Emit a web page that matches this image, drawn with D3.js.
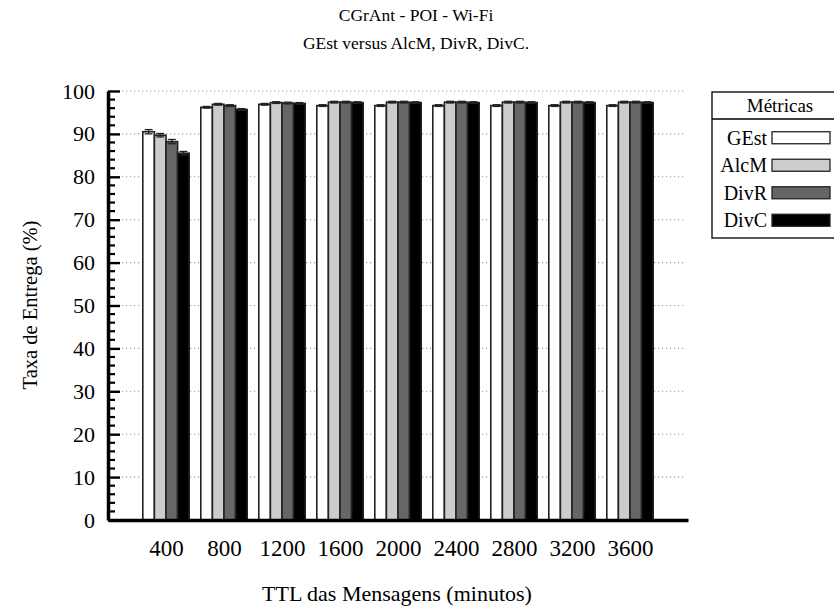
<!DOCTYPE html>
<html>
<head>
<meta charset="utf-8">
<script src="https://cdn.jsdelivr.net/npm/d3@7"></script>
<style>
  body { margin: 0; background: #fff; }
  svg { display: block; }
</style>
</head>
<body>
<svg id="chart" width="834" height="612"></svg>
<script>
const categories = ["400", "800", "1200", "1600", "2000", "2400", "2800", "3200", "3600"];
const seriesNames = ["GEst", "AlcM", "DivR", "DivC"];
const GEst = [90.5, 96.2, 96.9, 96.6, 96.6, 96.6, 96.6, 96.6, 96.6];
const AlcM = [89.7, 96.9, 97.3, 97.4, 97.4, 97.4, 97.4, 97.4, 97.4];
const DivR = [88.2, 96.6, 97.2, 97.4, 97.4, 97.4, 97.4, 97.4, 97.4];
const DivC = [85.5, 95.7, 97.1, 97.3, 97.3, 97.3, 97.3, 97.3, 97.3];
const GEstErr = [0.5, 0.2, 0.2, 0.2, 0.2, 0.2, 0.2, 0.2, 0.2];
const AlcMErr = [0.4, 0.2, 0.2, 0.2, 0.2, 0.2, 0.2, 0.2, 0.2];
const DivRErr = [0.5, 0.2, 0.2, 0.2, 0.2, 0.2, 0.2, 0.2, 0.2];
const DivCErr = [0.4, 0.2, 0.2, 0.2, 0.2, 0.2, 0.2, 0.2, 0.2];
const yTicks = [0, 10, 20, 30, 40, 50, 60, 70, 80, 90, 100];
const title1 = "CGrAnt - POI - Wi-Fi";
const title2 = "GEst versus AlcM, DivR, DivC.";
const xLabel = "TTL das Mensagens (minutos)";
const yLabel = "Taxa de Entrega (%)";
const legendTitle = "Métricas";

const values = [GEst, AlcM, DivR, DivC];
const errors = [GEstErr, AlcMErr, DivRErr, DivCErr];
const colors = ["#ffffff", "#cccccc", "#666666", "#000000"];
const FONT = "Liberation Serif";

const svg = d3.select("#chart").style("font-family", FONT);
const pLeft = 108, pRight = 688, pTop = 91, pBottom = 520;

const x = d3.scaleLinear().domain([-1, categories.length]).range([pLeft, pRight]);
const y = d3.scaleLinear().domain([0, 100]).range([pBottom, pTop]);
const barW = 0.2;

// grid
svg.append("g").selectAll("line").data(yTicks.filter(t => t > 0)).join("line")
  .attr("x1", pLeft + 2).attr("x2", pRight - 3)
  .attr("y1", d => y(d)).attr("y2", d => y(d))
  .attr("stroke", "#999").attr("stroke-width", 1.1).attr("stroke-dasharray", "1.2,2.8");

// bars
const flat = [];
categories.forEach((c, g) => {
  seriesNames.forEach((s, i) => {
    flat.push({g, i, v: values[i][g], e: errors[i][g]});
  });
});
const barsG = svg.append("g");
barsG.selectAll("rect").data(flat).join("rect")
  .attr("x", d => x(d.g + (d.i - 2) * barW))
  .attr("width", d => x(barW) - x(0))
  .attr("y", d => y(d.v))
  .attr("height", d => y(0) - y(d.v))
  .attr("fill", d => colors[d.i])
  .attr("stroke", "#222").attr("stroke-width", 1.6);

// error bars
const eg = barsG.selectAll("g.err").data(flat).join("g").attr("class", "err");
const capHalf = 4;
const cx = d => x(d.g + (d.i - 1.5) * barW);
eg.append("line")
  .attr("x1", cx).attr("x2", cx)
  .attr("y1", d => y(d.v + d.e)).attr("y2", d => y(d.v - d.e))
  .attr("stroke", "#222").attr("stroke-width", 1.3);
eg.append("line")
  .attr("x1", d => cx(d) - capHalf).attr("x2", d => cx(d) + capHalf)
  .attr("y1", d => y(d.v + d.e)).attr("y2", d => y(d.v + d.e))
  .attr("stroke", "#222").attr("stroke-width", 1.3);
eg.append("line")
  .attr("x1", d => cx(d) - capHalf).attr("x2", d => cx(d) + capHalf)
  .attr("y1", d => y(d.v - d.e)).attr("y2", d => y(d.v - d.e))
  .attr("stroke", "#222").attr("stroke-width", 1.3);

// minor ticks
const minorTicks = d3.range(0, 101, 2).filter(v => v % 10 !== 0);
svg.append("g").selectAll("line").data(minorTicks).join("line")
  .attr("x1", pLeft).attr("x2", pLeft + 7)
  .attr("y1", d => y(d)).attr("y2", d => y(d))
  .attr("stroke", "#000").attr("stroke-width", 2.2);

// y axis
const yAxis = d3.axisLeft(y).tickValues(yTicks).tickSizeInner(-12).tickSizeOuter(0).tickPadding(13);
const ya = svg.append("g").attr("transform", `translate(${pLeft},0)`).call(yAxis);
ya.attr("font-family", null).attr("font-size", null);
ya.select(".domain").attr("stroke", "#000").attr("stroke-width", 3.5);
ya.selectAll(".tick line").attr("stroke", "#000").attr("stroke-width", 2.4);
ya.selectAll(".tick text").style("font-family", FONT).style("font-size", "22px").attr("fill", "#000");

// x axis
const xAxis = d3.axisBottom(x).tickValues(d3.range(categories.length)).tickFormat(i => categories[i]).tickSize(0).tickPadding(20);
const xa = svg.append("g").attr("transform", `translate(0,${pBottom})`).call(xAxis);
xa.attr("font-family", null).attr("font-size", null);
xa.select(".domain").attr("stroke", "#000").attr("stroke-width", 3.5);
xa.selectAll(".tick text").style("font-family", FONT).style("font-size", "23px").attr("fill", "#000");

// titles
function label(xp, yp, txt, size, transform) {
  const t = svg.append("text").attr("text-anchor", "middle")
    .style("font-family", FONT).style("font-size", size + "px").attr("fill", "#000").text(txt);
  if (transform) t.attr("transform", transform); else t.attr("x", xp).attr("y", yp);
  return t;
}
label(416, 21, title1, 17.5);
label(416, 49, title2, 17.5);
label(397, 601, xLabel, 22);
label(0, 0, yLabel, 20.5, "translate(37,305) rotate(-90)");

// legend
const lg = svg.append("g");
lg.append("rect").attr("x", 712).attr("y", 92).attr("width", 130).attr("height", 146)
  .attr("fill", "#fff").attr("stroke", "#000").attr("stroke-width", 1.3);
lg.append("line").attr("x1", 712).attr("x2", 842).attr("y1", 119).attr("y2", 119)
  .attr("stroke", "#000").attr("stroke-width", 1.3);
lg.append("text").attr("x", 780).attr("y", 112).attr("text-anchor", "middle")
  .style("font-family", FONT).style("font-size", "19px").text(legendTitle);
const ly = d3.scaleBand().domain(seriesNames).range([124, 234]);
seriesNames.forEach((s, i) => {
  const cy = ly(s) + ly.bandwidth() / 2;
  lg.append("text").attr("x", 767).attr("y", cy + 7).attr("text-anchor", "end")
    .style("font-family", FONT).style("font-size", "20px").text(s);
  lg.append("rect").attr("x", 772).attr("y", cy - 6).attr("width", 58).attr("height", 12)
    .attr("fill", colors[i]).attr("stroke", "#222").attr("stroke-width", 1.3);
});
</script>
</body>
</html>
